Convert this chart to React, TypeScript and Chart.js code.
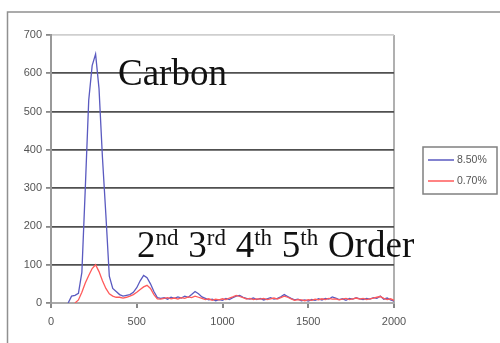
import React, { useEffect, useRef } from "react";
import { Chart, registerables } from "chart.js";

Chart.register(...registerables);

const xValues = [
  100, 120, 140, 160, 180, 200, 220, 240, 260, 280, 300, 320, 340, 360, 380, 400,
  420, 440, 460, 480, 500, 520, 540, 560, 580, 600, 620, 640, 660, 680, 700, 720,
  740, 760, 780, 800, 820, 840, 860, 880, 900, 920, 940, 960, 980, 1000, 1020, 1040,
  1060, 1080, 1100, 1120, 1140, 1160, 1180, 1200, 1220, 1240, 1260, 1280, 1300, 1320, 1340, 1360,
  1380, 1400, 1420, 1440, 1460, 1480, 1500, 1520, 1540, 1560, 1580, 1600, 1620, 1640, 1660, 1680,
  1700, 1720, 1740, 1760, 1780, 1800, 1820, 1840, 1860, 1880, 1900, 1920, 1940, 1960, 1980, 2000,
];

const blueValues = [
  0, 18, 20, 25, 80, 300, 530, 620, 650, 560, 380, 230, 70, 38, 30, 22,
  18, 20, 22, 28, 40, 58, 72, 66, 50, 30, 14, 12, 14, 10, 15, 12,
  16, 13, 18, 15, 22, 30, 24, 16, 12, 8, 10, 6, 9, 7, 12, 9,
  14, 18, 20, 15, 12, 10, 13, 9, 12, 8, 11, 14, 10, 12, 16, 22,
  17, 12, 8, 10, 6, 8, 5, 9, 7, 11, 8, 12, 10, 16, 13, 9,
  11, 7, 12, 10, 14, 11, 9, 12, 10, 14, 12, 18, 10, 13, 8, 5,
];

const redValues = [
  null, null, 0, 8, 28, 52, 72, 90, 100, 82, 58, 38, 24, 18, 15, 15,
  13, 15, 18, 22, 28, 35, 42, 46, 38, 22, 11, 10, 12, 14, 11, 13,
  10, 14, 12, 16, 14, 18, 15, 12, 9, 11, 7, 10, 8, 11, 9, 13,
  16, 20, 17, 14, 10, 12, 9, 11, 10, 12, 9, 11, 13, 10, 14, 18,
  15, 11, 7, 9, 8, 6, 9, 7, 10, 8, 11, 9, 12, 10, 11, 8,
  10, 12, 9, 11, 13, 10, 12, 9, 11, 13, 15, 17, 12, 9, 11, 7,
];

const seriesLabels = ["8.50%", "0.70%"];
const seriesColors = ["#5a5ac0", "#ff5a5a"];
const mainAnnotation = "Carbon";
const orderParts: { text: string; sup: boolean }[] = [
  { text: "2", sup: false },
  { text: "nd", sup: true },
  { text: " 3", sup: false },
  { text: "rd", sup: true },
  { text: " 4", sup: false },
  { text: "th", sup: true },
  { text: " 5", sup: false },
  { text: "th", sup: true },
  { text: " Order", sup: false },
];

const overlayPlugin = {
  id: "overlay",
  afterDatasetsDraw(chart: any) {
    const ctx = chart.ctx as CanvasRenderingContext2D;
    ctx.save();
    ctx.fillStyle = "#111";
    ctx.textBaseline = "alphabetic";
    ctx.textAlign = "left";
    ctx.font = '37px "Liberation Serif", "Times New Roman", serif';
    ctx.fillText(mainAnnotation, 118, 85);

    let x = 137;
    for (const p of orderParts) {
      if (p.sup) {
        ctx.font = '23px "Liberation Serif", "Times New Roman", serif';
        ctx.fillText(p.text, x, 245);
      } else {
        ctx.font = '37px "Liberation Serif", "Times New Roman", serif';
        ctx.fillText(p.text, x, 257);
      }
      x += ctx.measureText(p.text).width + (p.sup ? 0.5 : 0);
    }

    ctx.strokeStyle = "#808080";
    ctx.lineWidth = 1.5;
    ctx.strokeRect(423, 147, 74, 47);
    ctx.font = '10.5px "Liberation Sans", Arial, sans-serif';
    ctx.textBaseline = "middle";
    const rows = [160, 181];
    seriesLabels.forEach((lab, i) => {
      ctx.strokeStyle = seriesColors[i];
      ctx.lineWidth = 1.5;
      ctx.beginPath();
      ctx.moveTo(428, rows[i]);
      ctx.lineTo(454, rows[i]);
      ctx.stroke();
      ctx.fillStyle = "#555";
      ctx.fillText(lab, 457, rows[i] + 0.5);
    });

    ctx.strokeStyle = "#909090";
    ctx.lineWidth = 1.5;
    ctx.beginPath();
    ctx.moveTo(7.5, 343);
    ctx.lineTo(7.5, 12);
    ctx.lineTo(500, 12);
    ctx.stroke();
    ctx.restore();
  },
};

export default function App() {
  const ref = useRef<HTMLCanvasElement | null>(null);

  useEffect(() => {
    document.body.style.margin = "0";
    const canvas = ref.current;
    if (!canvas) return;
    const chart = new Chart(canvas, {
      type: "line",
      data: {
        datasets: [
          {
            label: seriesLabels[0],
            data: xValues.map((x, i) => ({ x, y: blueValues[i] })),
            borderColor: seriesColors[0],
            borderWidth: 1.3,
            pointRadius: 0,
            tension: 0,
            order: 1,
          },
          {
            label: seriesLabels[1],
            data: xValues.map((x, i) => ({ x, y: redValues[i] })),
            borderColor: seriesColors[1],
            borderWidth: 1.3,
            pointRadius: 0,
            tension: 0,
            order: 0,
            spanGaps: false,
          },
        ],
      },
      options: {
        animation: false,
        responsive: false,
        maintainAspectRatio: false,
        layout: { padding: { left: 0, top: 35, right: 106, bottom: 0 } },
        plugins: { legend: { display: false }, tooltip: { enabled: false } },
        scales: {
          x: {
            type: "linear",
            min: 0,
            max: 2000,
            afterFit: (s: any) => {
              s.height = 40;
            },
            ticks: {
              stepSize: 500,
              color: "#555",
              font: { family: '"Liberation Sans", Arial, sans-serif', size: 11 },
              padding: 7,
              maxRotation: 0,
              callback: (v: any) => String(v),
            },
            grid: {
              color: (c: any) => (c.tick && c.tick.value === 2000 ? "#b0b0b0" : "rgba(0,0,0,0)"),
              lineWidth: 2,
              tickColor: "#888",
              tickLength: 5,
            },
            border: { color: "#aaa", width: 2 },
          },
          y: {
            min: 0,
            max: 700,
            afterFit: (s: any) => {
              s.width = 51;
            },
            ticks: {
              stepSize: 100,
              color: "#555",
              font: { family: '"Liberation Sans", Arial, sans-serif', size: 11 },
              padding: 4,
              callback: (v: any) => String(v),
            },
            grid: {
              color: (c: any) => {
                const v = c.tick ? c.tick.value : -1;
                if (v === 0) return "#aaa";
                if (v === 700) return "#cfcfcf";
                return "#505050";
              },
              lineWidth: 1.8,
              tickColor: "#888",
              tickLength: 5,
            },
            border: { color: "#999", width: 2 },
          },
        },
      },
      plugins: [overlayPlugin],
    });
    return () => chart.destroy();
  }, []);

  return (
    <div style={{ width: 500, height: 343, background: "#fff" }}>
      <canvas ref={ref} width={500} height={343} style={{ display: "block" }} />
    </div>
  );
}
